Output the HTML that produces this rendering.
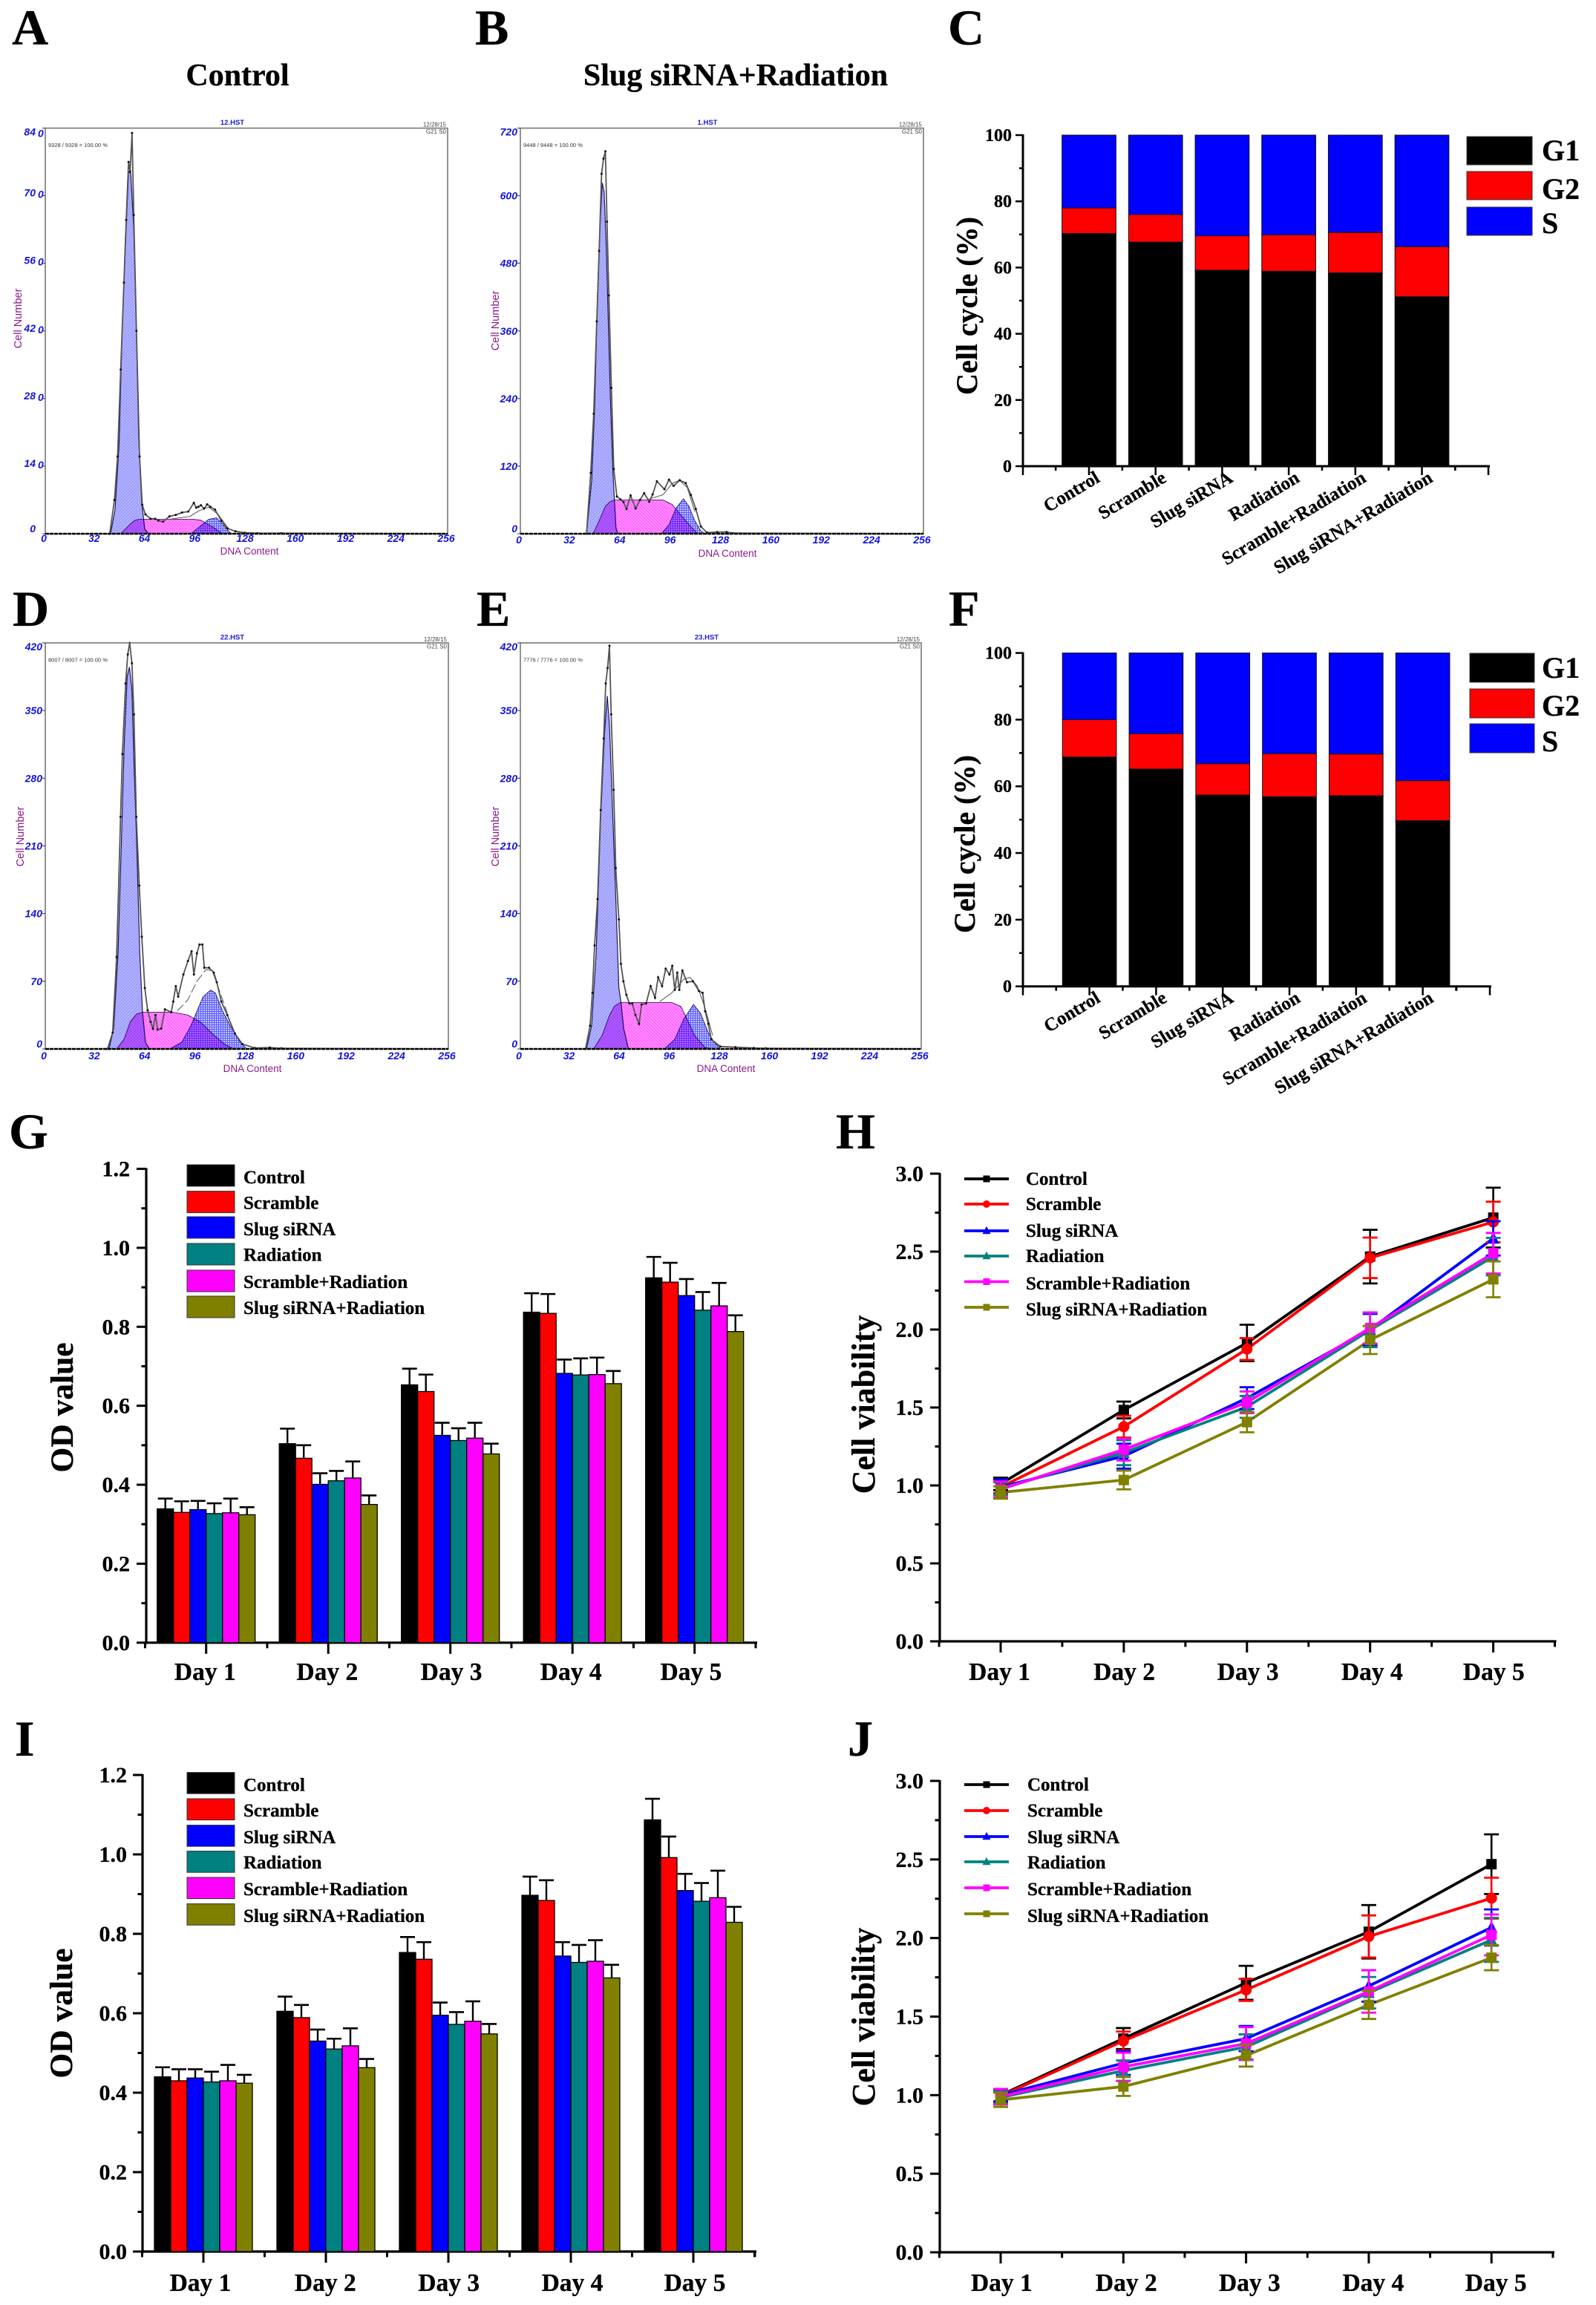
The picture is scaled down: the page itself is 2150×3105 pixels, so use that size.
<!DOCTYPE html>
<html lang="en">
<head>
<meta charset="utf-8">
<title>Slug siRNA cell cycle and viability figure</title>
<style>
html,body{margin:0;padding:0;background:#fff;}
svg{display:block;}
text{font-family:"Liberation Serif",serif;font-weight:bold;fill:#000;stroke:#000;stroke-width:.3px;}
.sans,.sans text{font-family:"Liberation Sans",sans-serif;stroke:none;}
.blend{mix-blend-mode:multiply;}
</style>
</head>
<body>
<svg id="fig" xmlns="http://www.w3.org/2000/svg" width="2150" height="3105" viewBox="0 0 2150 3105">
<defs>
<pattern id="g1Hatch" width="3" height="3" patternUnits="userSpaceOnUse" patternTransform="rotate(45)"><rect width="3" height="3" fill="#b2b2ff"/><rect width="1" height="3" fill="#9494f8"/></pattern>
<pattern id="sHatch" width="3" height="3" patternUnits="userSpaceOnUse" patternTransform="rotate(-45)"><rect width="3" height="3" fill="#ff8cff"/><rect width="1" height="3" fill="#ff58ff"/></pattern>
<pattern id="g2Hatch" width="3" height="3" patternUnits="userSpaceOnUse"><rect width="3" height="3" fill="#c4c4ff"/><rect width="1" height="3" fill="#5c5cff"/><rect width="3" height="1" fill="#5c5cff"/></pattern>
</defs>
</svg>
<script>
/* ---------- shared categories ---------- */
const cycleCategories = ["Control","Scramble","Slug siRNA","Radiation","Scramble+Radiation","Slug siRNA+Radiation"];
const seriesNames = ["Control","Scramble","Slug siRNA","Radiation","Scramble+Radiation","Slug siRNA+Radiation"];
const dayLabels = ["Day 1","Day 2","Day 3","Day 4","Day 5"];
const cycleTicks = ["0","20","40","60","80","100"];
const odTicks = ["0.0","0.2","0.4","0.6","0.8","1.0","1.2"];
const viabilityTicks = ["0.0","0.5","1.0","1.5","2.0","2.5","3.0"];
const phaseNames = ["G1","G2","S"];
const seriesColors = ["#000000","#ff0000","#0000ff","#008080","#ff00ff","#808000"];
const phaseColors = ["#000000","#ff0000","#0000ff"];
const seriesMarkers = ["square","diamond","triangle","triangle","square","square"];

/* ---------- panel C / F stacked bars ---------- */
const cG1 = [70.3,67.7,59.2,58.9,58.4,51.2];
const cG2 = [7.7,8.3,10.4,11.0,12.2,15.1];
const cS = [22.0,24.0,30.4,30.1,29.4,33.7];
const fG1 = [68.8,65.2,57.4,56.9,57.2,49.7];
const fG2 = [11.2,10.6,9.4,12.9,12.5,12.0];
const fS = [20.0,24.2,33.2,30.2,30.3,38.3];

/* ---------- panel G / I bars: rows = days, columns = series ---------- */
const gMeans = [
 [.339,.330,.337,.327,.329,.324],
 [.504,.467,.401,.410,.417,.350],
 [.653,.636,.525,.512,.518,.478],
 [.837,.834,.682,.678,.679,.656],
 [.924,.913,.879,.842,.853,.788]];
const gErrors = [
 [.026,.028,.022,.026,.036,.019],
 [.038,.033,.028,.025,.042,.023],
 [.041,.043,.032,.031,.039,.026],
 [.048,.049,.035,.042,.043,.032],
 [.053,.049,.042,.046,.058,.041]];
const iMeans = [
 [.440,.430,.437,.427,.430,.424],
 [.605,.589,.530,.510,.518,.463],
 [.753,.736,.595,.572,.580,.548],
 [.897,.884,.744,.728,.731,.689],
 [1.087,.992,.909,.882,.891,.829]];
const iErrors = [
 [.024,.029,.022,.026,.040,.021],
 [.037,.032,.029,.026,.044,.022],
 [.039,.043,.032,.031,.050,.025],
 [.047,.051,.035,.044,.053,.033],
 [.053,.053,.042,.046,.068,.039]];

/* ---------- panel H / J lines: rows = series, columns = days ---------- */
const hMeans = [
 [1.01,1.484,1.914,2.468,2.718],
 [.99,1.377,1.875,2.46,2.69],
 [.99,1.188,1.56,2.0,2.585],
 [.98,1.21,1.504,1.997,2.468],
 [.975,1.23,1.533,2.01,2.49],
 [.955,1.035,1.406,1.933,2.322]];
const hErrors = [
 [.04,.054,.117,.172,.192],
 [.04,.07,.07,.13,.13],
 [.05,.08,.07,.10,.11],
 [.04,.08,.07,.11,.12],
 [.05,.07,.07,.10,.13],
 [.04,.06,.065,.09,.115]];
const jMeans = [
 [1.0,1.36,1.715,2.04,2.47],
 [.995,1.345,1.67,2.01,2.254],
 [1.0,1.204,1.36,1.695,2.067],
 [.985,1.156,1.307,1.652,1.988],
 [.99,1.18,1.328,1.66,2.02],
 [.97,1.055,1.252,1.575,1.875]];
const jErrors = [
 [.04,.067,.108,.17,.19],
 [.04,.06,.07,.134,.13],
 [.04,.075,.08,.10,.115],
 [.04,.065,.08,.10,.14],
 [.05,.09,.105,.135,.13],
 [.045,.06,.07,.09,.08]];

/* ---------- histograms: [DNA channel, cell count] ---------- */
const aRaw = [[41,0],[44,7],[46,16],[48,34],[50,52],[51.5,65],[53,77],[54,75],[55.2,83],[56.3,66],[58,42],[60,16],[61.7,6],[63.7,4],[67,3.1],[70,3.1],[72,2.7],[75,2.5],[79,3.6],[83,3.9],[87,4.4],[91,4.6],[94.5,6.4],[96,5.4],[97.4,5.6],[99,5.9],[101,5.2],[103,6.1],[105,5.6],[108,5],[112,2.7],[116,1.1],[121,.5],[127,.2],[135,.1],[150,.1],[256,0]];
const aG1 = [[41.5,0],[44.4,5],[47,18.7],[49,43],[51,60],[53,75],[54.4,74.6],[56.3,63],[58,41.7],[59.4,20],[61.3,6.5],[63.3,1],[65.6,0]];
const aS = [[48,0],[51,1],[54,2],[57,2.8],[60,3],[79,3],[94.5,3],[99,2.8],[106,1.5],[112,.2],[114,0]];
const aG2 = [[92.6,0],[98.4,1.5],[104,3],[109,3.3],[113,1.9],[117.7,.2],[119.6,0]];
const aFit = [[79,3],[92,3.6],[98,4.8],[104,5.5],[110,4],[116,1.3]];
const aYTicks = [0,14,28,42,56,70,84];

const bRaw = [[42,0],[44.7,108],[46.6,213],[48.5,377],[50,502],[51.6,639],[52.8,666],[54,679],[55,554],[56.2,423],[57.8,259],[59.3,115],[61.3,66],[63.6,61],[65.5,56],[67.4,44],[70,68],[73.2,45],[76,60],[78.6,72],[81.9,57],[84,70],[86.7,93],[91.5,79],[94.4,96],[97.3,85],[101.2,95],[105,90],[108.3,69],[111.4,44],[114.6,13],[118.5,2],[125,3],[131,3],[135,1],[256,0]];
const bG1 = [[42,0],[45.3,95],[47.2,226],[49,423],[50.5,541],[52,623],[53.2,607],[54.5,515],[55.9,370],[57.2,239],[58.8,108],[60.7,10],[62,0]];
const bS = [[46.2,0],[50,23],[54,49],[57,57],[59.7,60],[90.5,60],[96.3,52],[102,33],[108,13],[112.7,0]];
const bG2 = [[89.6,0],[94.4,16],[99,46],[103.6,62],[107,49],[110.8,23],[114.6,5],[117.5,0]];
const bFit = [[81,61],[90.5,69],[96.3,89],[101,95],[106,82],[110.8,39]];
const bYTicks = [0,120,240,360,480,600,720];

const dRaw = [[39.5,0],[42.8,17],[45.3,95],[47.8,240],[49,305],[51,378],[52.4,408],[53.6,420],[55,399],[56.3,346],[57.8,240],[59.7,169],[61.3,116],[63.2,63],[65,40],[66.9,28],[68.4,21],[70,35],[71.3,20],[73.6,21],[76,41],[80,38],[81.3,49],[82.9,65],[84.4,54],[87.7,77],[90.6,91],[92.9,101],[94.4,77],[96.3,99],[97.9,108],[99.8,108],[101,84],[104,84],[107,79],[108.9,69],[111.8,49],[115.6,35],[120.4,16],[125.2,5],[133,1],[142.6,1.4],[150,.7],[256,0]];
const dG1 = [[40.5,0],[43.4,21],[46.2,99],[48.2,205],[50,310],[52,385],[53.4,395],[55,371],[56.5,289],[58.2,205],[60,99],[61.7,39],[63.6,7],[66,0]];
const dS = [[45.3,0],[50,10],[54,28],[58,36],[61.7,38],[81,38],[90.6,35],[98.3,28],[106,16],[113.7,5],[119.5,0]];
const dG2 = [[79,0],[86.7,7],[92.5,24],[96.3,39],[100.2,54],[105,61],[108,58],[112.7,39],[117.5,24],[123.3,8],[128,0]];
const dFit = [[83.8,39],[90.6,51],[96.3,70],[102,82],[106,81],[110,63],[115.6,37]];
const dYTicks = [0,70,140,210,280,350,420];

const eRaw = [[41.6,0],[44.5,24],[46,58],[47.4,107],[49.3,155],[51.3,247],[53.2,321],[54.5,378],[55.7,394],[56.9,417],[58,346],[59.6,268],[60.9,187],[62.9,134],[64.2,88],[65.8,70],[67.7,56],[69.6,47],[71.5,47],[73.5,35],[75.8,26],[77.4,46],[80.3,47],[83.2,65],[86,53],[88,74],[90.5,65],[92.8,83],[95.2,77],[97,86],[98.6,61],[100.2,79],[101.5,61],[103.5,81],[106.4,69],[110.2,70],[114,60],[116.4,58],[118,39],[120,26],[121.9,10],[127.7,2.5],[137.3,1.8],[149,1],[156.7,.7],[256,0]];
const eG1 = [[42.2,0],[45.5,24],[48.4,99],[51.3,240],[53.8,328],[55.5,365],[57,332],[59,240],[61,152],[62.9,63],[64.2,49],[66,21],[69,0]];
const eS = [[46.8,0],[52.2,14],[57,35],[60,44],[63.8,48],[96.7,48],[102.5,44],[106.4,31],[111.2,14],[118,1.4],[121.9,0]];
const eG2 = [[91.9,0],[98.6,10],[104.4,31],[110.6,46],[115,37],[120,17],[123.8,7],[127.7,0]];
const eFit = [[89,49],[96.7,58],[104.4,72],[108.3,74],[113,65],[118,42],[122.8,14]];
const eYTicks = [0,70,140,210,280,350,420];
const channelTicks = [0,32,64,96,128,160,192,224,256];

/* ---------- helpers ---------- */
const NS = "http://www.w3.org/2000/svg";
const root = document.getElementById("fig");
function mk(tag, attrs, parent, name){
  const el = document.createElementNS(NS, tag);
  for(const k in attrs) el.setAttribute(k, attrs[k]);
  
  
  parent.appendChild(el);
  return el;
}
function group(parent, name, cls){
  const attrs = cls ? {"class":cls} : {};
  return mk("g", attrs, parent, name);
}
function txt(parent, name, x, y, str, size, extra){
  const attrs = Object.assign({x:x, y:y, "font-size":size}, extra || {});
  const el = mk("text", attrs, parent, name);
  el.textContent = str;
  return el;
}
function line(parent, name, x1, y1, x2, y2, color, w, cap){
  return mk("line", {x1:x1,y1:y1,x2:x2,y2:y2,stroke:color,"stroke-width":w,"stroke-linecap":cap||"butt"}, parent, name);
}
function rotTitle(parent, name, x, y, str, size){
  return txt(parent, name, 0, 0, str, size, {"text-anchor":"middle", transform:"translate("+x+" "+y+") rotate(-90)"});
}
function marker(parent, name, type, x, y, s, color){
  if(type === "square") return mk("rect",{x:x-s/2,y:y-s/2,width:s,height:s,fill:color},parent,name);
  if(type === "diamond") return mk("circle",{cx:x,cy:y,r:s/2+.5,fill:color},parent,name);
  const h = s*.58;
  return mk("polygon",{points:(x)+","+(y-h-1)+" "+(x+s/2+1)+","+(y+h-1)+" "+(x-s/2-1)+","+(y+h-1),fill:color},parent,name);
}

/* shared axes for the Origin-style charts */
function drawAxes(g, o){
  const yS = v => o.yB - v/o.yMax*(o.yB-o.yT);
  const xS = i => o.first + i*o.step;
  line(g,"y-axis",o.x0,o.yT-1,o.x0,o.yB+2,"#000",o.axisW);
  line(g,"x-axis",o.x0-2,o.yB,o.xR+2,o.yB,"#000",o.axisW);
  const majorStep = o.ticks.length > 1 ? Number(o.ticks[1]) - Number(o.ticks[0]) : 1;
  o.ticks.forEach((label,k)=>{
    const v = Number(label), y = yS(v);
    line(g,"y-tick-"+label,o.x0-o.tickLen,y,o.x0,y,"#000",o.tickW);
    txt(g,"y-tick-label-"+label,o.yLabelX,y+o.yLabelDy,label,o.yLabelSize,{"text-anchor":"end"});
    if(k < o.ticks.length-1){
      const ym = yS(v + majorStep/2);
      line(g,"y-minor-tick",o.x0-o.tickLen/2,ym,o.x0,ym,"#000",o.tickW);
    }
  });
  o.cats.forEach((label,i)=>{
    const x = xS(i);
    line(g,"x-tick-"+label,x,o.yB,x,o.yB+o.tickLen+2,"#000",o.tickW);
    line(g,"x-minor-tick",x+o.step/2,o.yB,x+o.step/2,o.yB+o.tickLen/2+1,"#000",o.tickW);
  });
  line(g,"x-minor-tick",o.first-o.step/2,o.yB,o.first-o.step/2,o.yB+o.tickLen/2+1,"#000",o.tickW);
  return {xS:xS,yS:yS};
}

/* stacked bar panel */
function stacked(name, o, g1, g2, s){
  const g = group(root, name);
  const a = drawAxes(g, Object.assign({cats:cycleCategories,ticks:cycleTicks,yMax:100,axisW:3,tickW:2.5,tickLen:10,yLabelSize:24,yLabelDy:8},o));
  line(g,"x-axis-end-tick-left",o.x0,o.yB,o.x0,o.yB+12,"#000",2.5);
  line(g,"x-axis-end-tick-right",o.xR,o.yB,o.xR,o.yB+12,"#000",2.5);
  line(g,"x-minor-tick",o.xR-o.step/2,o.yB,o.xR-o.step/2,o.yB+6,"#000",2.5);
  cycleCategories.forEach((cat,i)=>{
    const x = a.xS(i)-o.barW/2;
    const stack = [g1[i],g2[i],s[i]];
    let base = 0;
    stack.forEach((v,p)=>{
      const yTop = a.yS(base+v), yBot = a.yS(base);
      mk("rect",{x:x,y:yTop,width:o.barW,height:yBot-yTop,fill:phaseColors[p],stroke:"#111","stroke-width":1},g,"bar-"+phaseNames[p]+"-"+i);
      base += v;
    });
    const ex = a.xS(i)+o.labelDx, ey = o.yB+o.labelDy;
    txt(g,"x-tick-label-"+i,0,0,cat,25,{"text-anchor":"end",transform:"translate("+ex+" "+ey+") rotate(-31)"});
  });
  phaseNames.forEach((p,i)=>{
    mk("rect",{x:o.legX,y:o.legY[i],width:o.legW,height:o.legH,fill:phaseColors[i],stroke:"#333","stroke-width":1},g,"legend-swatch-"+p);
    txt(g,"legend-label-"+p,o.legTextX,o.legBase[i],p,40);
  });
  rotTitle(g,"y-axis-title",o.titleX,o.titleY,"Cell cycle (%)",40);
}

/* grouped bar panel */
function barPanel(name, o, means, errors){
  const g = group(root, name);
  const a = drawAxes(g, Object.assign({cats:dayLabels,ticks:odTicks,yMax:1.2,axisW:3.2,tickW:3,tickLen:13,yLabelSize:30,yLabelDy:10},o));
  line(g,"x-minor-tick",o.xR,o.yB,o.xR,o.yB+7,"#000",3);
  dayLabels.forEach((d,i)=>{
    txt(g,"x-tick-label-"+d,a.xS(i)+o.dayDx[i],o.dayBase,d,33.5,{"text-anchor":"middle"});
    means[i].forEach((v,s)=>{
      const cx = a.xS(i)+(s-2.5)*o.barW;
      const top = a.yS(v+errors[i][s]);
      line(g,"error-bar-"+s,cx,a.yS(v),cx,top,"#000",2.4);
      line(g,"error-cap-"+s,cx-10,top,cx+10,top,"#000",2.6);
    });
    means[i].forEach((v,s)=>{
      const cx = a.xS(i)+(s-2.5)*o.barW;
      const y = a.yS(v);
      mk("rect",{x:cx-o.barW/2,y:y,width:o.barW,height:o.yB-y,fill:seriesColors[s],stroke:"#000","stroke-width":1.3},g,"bar-"+d+"-"+s);
    });
  });
  seriesNames.forEach((n,i)=>{
    mk("rect",{x:252,y:o.legY[i],width:64,height:o.legH,fill:seriesColors[i],stroke:"#333","stroke-width":1},g,"legend-swatch-"+i);
    txt(g,"legend-label-"+i,o.legTextX,o.legBase[i],n,25);
  });
  rotTitle(g,"y-axis-title",o.titleX,o.titleY,"OD value",43.5);
}

/* line panel */
function linePanel(name, o, means, errors){
  const g = group(root, name);
  const a = drawAxes(g, Object.assign({cats:dayLabels,ticks:viabilityTicks,yMax:3,axisW:3.2,tickW:3,tickLen:13,yLabelSize:30,yLabelDy:10},o));
  line(g,"x-minor-tick",o.xR,o.yB,o.xR,o.yB+7,"#000",3);
  dayLabels.forEach((d,i)=>{
    txt(g,"x-tick-label-"+d,a.xS(i)+o.dayDx[i],o.dayBase,d,33.5,{"text-anchor":"middle"});
  });
  means.forEach((row,s)=>{
    const pts = row.map((v,i)=>a.xS(i)+","+a.yS(v)).join(" ");
    mk("polyline",{points:pts,fill:"none",stroke:seriesColors[s],"stroke-width":3.8,"stroke-linejoin":"round"},g,"line-"+s);
  });
  means.forEach((row,s)=>{
    row.forEach((v,i)=>{
      const x = a.xS(i), e = errors[s][i];
      line(g,"error-bar-"+s+"-"+i,x,a.yS(v-e),x,a.yS(v+e),seriesColors[s],2.6);
      line(g,"error-cap-"+s+"-"+i,x-10,a.yS(v+e),x+10,a.yS(v+e),seriesColors[s],2.8);
      line(g,"error-cap-"+s+"-"+i,x-10,a.yS(v-e),x+10,a.yS(v-e),seriesColors[s],2.8);
      marker(g,"point-"+s+"-"+i,seriesMarkers[s],x,a.yS(v),14,seriesColors[s]);
    });
  });
  seriesNames.forEach((n,i)=>{
    line(g,"legend-line-"+i,1299,o.legY[i],1359,o.legY[i],seriesColors[i],3.8);
    marker(g,"legend-marker-"+i,seriesMarkers[i],1329,o.legY[i],9,seriesColors[i]);
    txt(g,"legend-label-"+i,o.legTextX,o.legBase[i],n,25);
  });
  rotTitle(g,"y-axis-title",o.titleX,o.titleY,"Cell viability",44);
}

/* DNA histogram panel */
function histogram(name, o, raw, g1, s, g2, fit, yTicks){
  const g = group(root, name, "sans");
  const X = c => o.L + c/256*(o.R-o.L);
  const Y = v => o.B - v/o.yMax*(o.B-o.T);
  const toPts = arr => arr.map(p=>X(p[0]).toFixed(1)+","+Y(p[1]).toFixed(1)).join(" ");
  mk("polygon",{points:toPts(g1),fill:"url(#g1Hatch)",stroke:"#1a1a60","stroke-width":1.2},g,"g1-peak");
  mk("polygon",{points:toPts(s),fill:"url(#sHatch)",stroke:"#300040","stroke-width":.8,"class":"blend"},g,"s-phase");
  mk("polygon",{points:toPts(g2),fill:"url(#g2Hatch)",stroke:"#101060","stroke-width":.8,"class":"blend"},g,"g2-peak");
  mk("polyline",{points:toPts(fit),fill:"none",stroke:"#555","stroke-width":1,"stroke-dasharray":o.fitDash},g,"fit-line");
  mk("polyline",{points:toPts(raw),fill:"none",stroke:"#555","stroke-width":1.8},g,"raw-histogram");
  raw.forEach((p,i)=>{
    if(p[0] < 200) mk("circle",{cx:X(p[0]),cy:Y(p[1]),r:1.5,fill:"#111"},g,"raw-point-"+i);
  });
  mk("rect",{x:o.L,y:o.T,width:o.R-o.L,height:o.B-o.T,fill:"none",stroke:"#777","stroke-width":1.6},g,"plot-frame");
  mk("line",{x1:o.L,y1:o.B,x2:o.R,y2:o.B,stroke:"#000","stroke-width":2.6,"stroke-dasharray":"5 1"},g,"baseline");
  yTicks.forEach(v=>{
    const y = Y(v);
    line(g,"y-tick-"+v,o.L-4,y,o.L,y,"#333",1);
    let base = y+o.midDy;
    if(v === yTicks[yTicks.length-1]) base = o.T+10;
    if(v === 0) base = o.B-2;
    txt(g,"y-tick-label-"+v,o.L+o.yLabelDx,base,String(v),14,{"text-anchor":"end","font-style":"italic",style:"fill:#1414d8"});
    if(o.suffix && v !== 0) txt(g,"y-tick-suffix-"+v,o.L-10,base+2,"0",14,{"font-style":"italic",style:"fill:#1414d8"});
  });
  channelTicks.forEach(c=>{
    txt(g,"x-tick-label-"+c,X(c)-2,o.B+o.xLabelDy,String(c),14,{"text-anchor":"middle","font-style":"italic",style:"fill:#1414d8"});
  });
  txt(g,"x-axis-title",o.xTitleX,o.B+o.xTitleDy,"DNA Content",13.5,{"text-anchor":"middle",style:"fill:#8b1a8b;font-weight:normal"});
  txt(g,"y-axis-title",0,0,"Cell Number",14.5,{"text-anchor":"middle",transform:"translate("+o.yTitleX+" "+o.yTitleY+") rotate(-90)",style:"fill:#8b1a8b;font-weight:normal"});
  txt(g,"file-name",o.fileX,o.T-4.5,o.file,9.5,{"text-anchor":"middle",style:"fill:#1a1ad0"});
  txt(g,"date-stamp",o.R-2,o.T-2,"12/28/15",8,{"text-anchor":"end",style:"fill:#444;font-weight:normal"});
  txt(g,"gate-stamp",o.R-2,o.T+7.5,"G21 S0",8,{"text-anchor":"end",style:"fill:#444;font-weight:normal"});
  txt(g,"event-count",o.L+4,o.T+25.5,o.count,7.5,{style:"fill:#333;font-weight:normal"});
}

/* ---------- panel letters and titles ---------- */
const letters = group(root,"panel-letters");
txt(letters,"panel-letter-a",16,60,"A",68);
txt(letters,"panel-letter-b",640,60,"B",68);
txt(letters,"panel-letter-c",1277,60,"C",68);
txt(letters,"panel-letter-d",17,843,"D",68);
txt(letters,"panel-letter-e",642,843,"E",68);
txt(letters,"panel-letter-f",1278,843,"F",68);
txt(letters,"panel-letter-g",12,1547,"G",68);
txt(letters,"panel-letter-h",1126,1547,"H",68);
txt(letters,"panel-letter-i",20,2365,"I",68);
txt(letters,"panel-letter-j",1142,2365,"J",68);
const titles = group(root,"column-titles");
txt(titles,"title-control",320,115,"Control",42,{"text-anchor":"middle"});
txt(titles,"title-slug-sirna-radiation",991,115,"Slug siRNA+Radiation",42,{"text-anchor":"middle"});

/* ---------- render histograms ---------- */
histogram("panel-a",{L:61,R:603,T:172.6,B:719,yMax:84,midDy:1,yLabelDx:-13,suffix:true,xLabelDy:11,xTitleDy:28,xTitleX:336,yTitleX:29,yTitleY:429,fileX:313,file:"12.HST",count:"9328 / 9328 = 100.00 %",fitDash:"none"},aRaw,aG1,aS,aG2,aFit,aYTicks);
histogram("panel-b",{L:701,R:1244,T:172.6,B:719,yMax:720,midDy:5,yLabelDx:-4,suffix:false,xLabelDy:13,xTitleDy:31,xTitleX:980,yTitleX:672,yTitleY:432,fileX:953,file:"1.HST",count:"9448 / 9448 = 100.00 %",fitDash:"none"},bRaw,bG1,bS,bG2,bFit,bYTicks);
histogram("panel-d",{L:61,R:604,T:866,B:1413,yMax:420,midDy:5,yLabelDx:-4,suffix:false,xLabelDy:14,xTitleDy:31,xTitleX:340,yTitleX:32,yTitleY:1127,fileX:313,file:"22.HST",count:"8007 / 8007 = 100.00 %",fitDash:"12 4"},dRaw,dG1,dS,dG2,dFit,dYTicks);
histogram("panel-e",{L:701,R:1241,T:866,B:1413,yMax:420,midDy:5,yLabelDx:-4,suffix:false,xLabelDy:14,xTitleDy:31,xTitleX:978,yTitleX:672,yTitleY:1127,fileX:952,file:"23.HST",count:"7776 / 7776 = 100.00 %",fitDash:"none"},eRaw,eG1,eS,eG2,eFit,eYTicks);

/* ---------- render stacked bars ---------- */
stacked("panel-c",{x0:1378,xR:2005,yT:182,yB:628,first:1467,step:89.7,barW:72.7,yLabelX:1363,labelDx:16,labelDy:20,legX:1976,legW:88,legH:38,legY:[184,231,279],legTextX:2077,legBase:[216,268,314],titleX:1316,titleY:412},cG1,cG2,cS);
stacked("panel-f",{x0:1378,xR:2007,yT:879.6,yB:1328.7,first:1467.6,step:89.8,barW:72.7,yLabelX:1363,labelDx:16,labelDy:20,legX:1980,legW:87,legH:39,legY:[880,928,975],legTextX:2077,legBase:[913,964,1012],titleX:1313,titleY:1137},fG1,fG2,fS);

/* ---------- render grouped bars ---------- */
barPanel("panel-g",{x0:197,xR:1018,yT:1574.5,yB:2212.8,first:277.7,step:164.5,barW:22,yLabelX:175,dayDx:[-1.4,-1.4,1.4,-2,-4.8],dayBase:2263,legY:[1569,1604.6,1639,1675,1711,1746],legH:29,legTextX:328,legBase:[1594,1628.6,1664,1698.5,1735,1770],titleX:98,titleY:1896},gMeans,gErrors);
barPanel("panel-i",{x0:192,xR:1017,yT:2391,yB:3033,first:274,step:165,barW:22,yLabelX:171,dayDx:[-4,-.7,.7,2,2],dayBase:3086,legY:[2387.6,2423,2458.6,2493.6,2529,2564.6],legH:28.6,legTextX:328,legBase:[2412.4,2447,2483,2517,2553,2589],titleX:97,titleY:2712},iMeans,iErrors);

/* ---------- render lines ---------- */
linePanel("panel-h",{x0:1266,xR:2094.5,yT:1581,yB:2211,first:1348,step:165.9,yLabelX:1244,dayDx:[-1.4,.7,1.4,2.7,.7],dayBase:2263,legY:[1588,1622,1658,1692,1726.5,1761],legTextX:1382,legBase:[1596,1630,1666,1700,1737,1772],titleX:1178,titleY:1892},hMeans,hErrors);
linePanel("panel-j",{x0:1266,xR:2092,yT:2399,yB:3034,first:1348,step:165.3,yLabelX:1244,dayDx:[1.4,4,4.8,6,6],dayBase:3086,legY:[2404,2439,2474,2508,2543,2578],legTextX:1384,legBase:[2412,2447,2483,2517,2553,2589],titleX:1178,titleY:2717},jMeans,jErrors);
</script>
</body>
</html>
